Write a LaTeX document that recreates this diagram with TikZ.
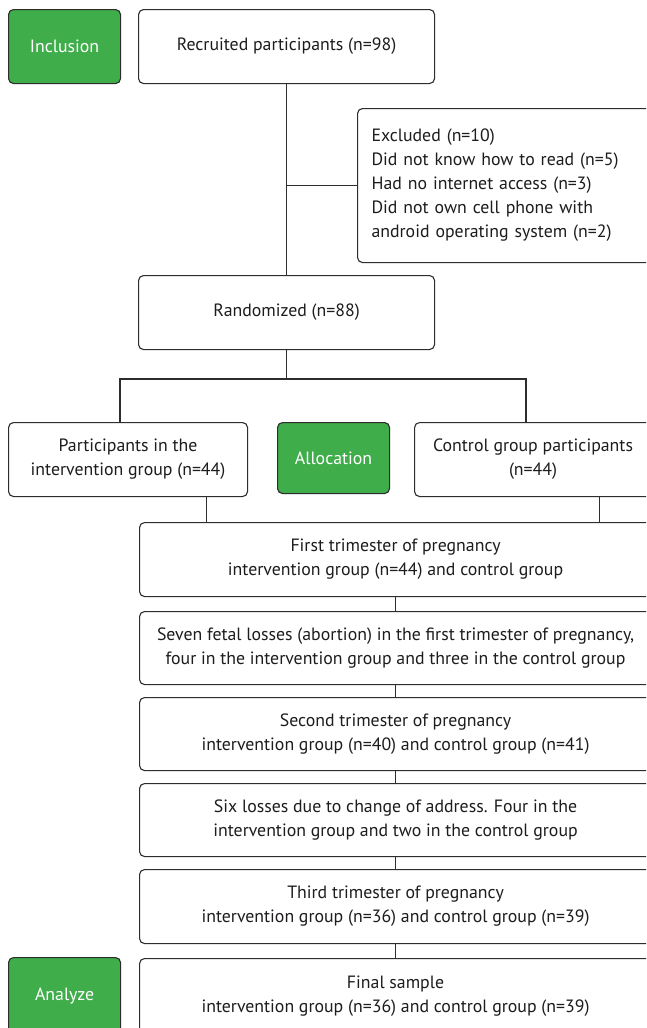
\documentclass[tikz,border=0pt]{standalone}
\usepackage{fontspec}
\setmainfont{PT Sans}
\definecolor{boxgreen}{RGB}{62,173,74}
\definecolor{linegray}{RGB}{45,45,45}
\definecolor{textgray}{RGB}{30,28,29}
\begin{document}
\begin{tikzpicture}[x=1pt,y=-1pt,
  box/.style={draw=linegray, line width=1.1pt, rounded corners=5pt, fill=white,
    align=center, font=\fontsize{17.8}{24}\selectfont, inner sep=0pt,
    anchor=north west, text=textgray},
  gbox/.style={box, fill=boxgreen, text=white},
  conn/.style={draw=linegray, line width=1.1pt}]
\clip (0,0) rectangle (646,1028);
\fill[white] (0,0) rectangle (646,1028);

\node[gbox, minimum width=112pt, minimum height=74pt] (incl) at (8,9) {Inclusion};
\node[box, minimum width=296pt, minimum height=74pt] (rec) at (138,9) {Recruited participants (n=98)};
\node[box, align=left, text width=267pt, inner xsep=14pt, minimum height=154pt] (excl) at (357,108)
  {Excluded (n=10)\\Did not know how to read (n=5)\\Had no internet access (n=3)\\Did not own cell phone with\\android operating system (n=2)};
\node[box, minimum width=296pt, minimum height=74pt] (rand) at (138,275) {Randomized (n=88)};
\node[box, minimum width=239pt, minimum height=74pt] (part) at (8,422) {Participants in the\\intervention group (n=44)};
\node[gbox, minimum width=112pt, minimum height=71pt] (alloc) at (277,422) {Allocation};
\node[box, minimum width=237pt, minimum height=74pt] (ctrl) at (414,422) {Control group participants\\(n=44)};
\node[box, minimum width=512pt, minimum height=74pt] (first) at (139,522) {First trimester of pregnancy\\intervention group (n=44) and control group};
\node[box, minimum width=512pt, minimum height=73pt] (seven) at (139,611) {Seven fetal losses (abortion) in the first trimester of pregnancy,\\four in the intervention group and three in the control group};
\node[box, minimum width=512pt, minimum height=73pt] (second) at (139,697) {Second trimester of pregnancy\\intervention group (n=40) and control group (n=41)};
\node[box, minimum width=512pt, minimum height=73pt] (six) at (139,783) {Six losses due to change of address. Four in the\\intervention group and two in the control group};
\node[box, minimum width=512pt, minimum height=74pt] (third) at (139,869) {Third trimester of pregnancy\\intervention group (n=36) and control group (n=39)};
\node[box, minimum width=512pt, minimum height=76pt] (final) at (139,958) {Final sample\\intervention group (n=36) and control group (n=39)};
\node[gbox, minimum width=112pt, minimum height=76pt] (anal) at (8,957) {Analyze};

\coordinate (bl) at (120,379);
\coordinate (br) at (526,379);
\draw[conn] (rec.south) -- (rand.north);
\draw[conn] (rec.south |- excl.west) -- (excl.west);
\draw[conn] (rand.south) -- (rand.south |- bl);
\draw[conn] (bl |- part.north) -- (bl) -- (br) -- (br |- ctrl.north);
\draw[conn] ([xshift=78pt]part.south) -- ([xshift=78pt]part.south |- first.north);
\draw[conn] ([xshift=66pt]ctrl.south) -- ([xshift=66pt]ctrl.south |- first.north);
\draw[conn] (first.south) -- (seven.north);
\draw[conn] (seven.south) -- (second.north);
\draw[conn] (second.south) -- (six.north);
\draw[conn] (six.south) -- (third.north);
\draw[conn] (third.south) -- (final.north);
\end{tikzpicture}
\end{document}
